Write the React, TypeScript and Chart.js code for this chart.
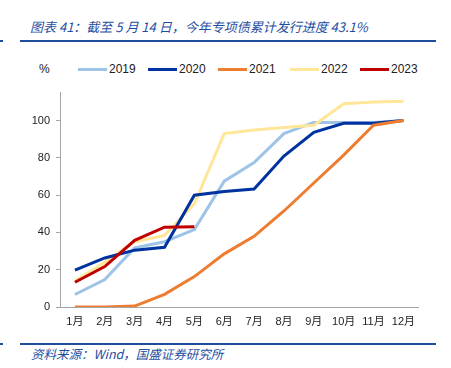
import React, { useEffect, useRef } from "react";
import { Chart, registerables } from "chart.js";

Chart.register(...registerables);

const months = ["1月", "2月", "3月", "4月", "5月", "6月", "7月", "8月", "9月", "10月", "11月", "12月"];
const yTicks = [0, 20, 40, 60, 80, 100];
const s2019 = [6.7, 14.7, 31.7, 35, 41.5, 67.5, 77.5, 93, 99, 99, 99, 100];
const s2020 = [19.8, 26.3, 30.5, 32, 60, 62, 63.3, 81, 93.7, 98.5, 98.5, 100];
const s2021 = [0, 0, 0.5, 6.8, 16.3, 28.5, 37.9, 51.5, 66.5, 81.5, 97.5, 100];
const s2022 = [14, 24, 35, 38.4, 55.4, 93, 95, 96.3, 97.5, 109, 110, 110.4];
const s2023 = [13.3, 21.7, 35.8, 42.8, 43.1];

const seriesNames = ["2019", "2020", "2021", "2022", "2023"];
const seriesColors = ["#9DC3E6", "#0033A0", "#ED7D31", "#FFE699", "#C00000"];
const seriesData = [s2019, s2020, s2021, s2022, s2023];
const seriesOrder = [4, 2, 1, 3, 0];
const legendX = [78, 148, 218, 290, 360];

const FONT = '"Liberation Sans", "Noto Sans CJK SC", sans-serif';

export default function App() {
  const ref = useRef<HTMLCanvasElement | null>(null);

  useEffect(() => {
    document.body.style.margin = "0";
    if (!ref.current) return;
    const chart = new Chart(ref.current, {
      type: "line",
      data: {
        labels: months,
        datasets: seriesNames.map((n, i) => ({
          label: n,
          data: seriesData[i],
          borderColor: seriesColors[i],
          backgroundColor: seriesColors[i],
          borderWidth: 3,
          pointRadius: 0,
          tension: 0,
          fill: false,
          order: seriesOrder[i],
        })),
      },
      options: {
        animation: false,
        responsive: false,
        maintainAspectRatio: false,
        layout: { padding: { top: 8, right: 0, left: 0, bottom: 0 } },
        plugins: { legend: { display: false }, tooltip: { enabled: false } },
        scales: {
          x: {
            offset: true,
            grid: { display: false, drawTicks: false },
            border: { display: true, color: "#A6A6A6", width: 1 },
            ticks: { color: "#222", font: { family: FONT, size: 11 }, padding: 8, maxRotation: 0, autoSkip: false },
            afterFit: (s: any) => { s.height = 28; },
          },
          y: {
            min: 0,
            max: 115,
            grid: { display: true, drawOnChartArea: false, drawTicks: true, tickLength: 4, color: "#A6A6A6" },
            border: { display: true, color: "#A6A6A6", width: 1 },
            ticks: { color: "#222", font: { family: FONT, size: 11 }, padding: 6 },
            afterBuildTicks: (s: any) => { s.ticks = yTicks.map((v) => ({ value: v })); },
            afterFit: (s: any) => { s.width = 60; },
          },
        },
      },
    });
    return () => chart.destroy();
  }, []);

  const blue = "#1F4E9F";
  return (
    <div style={{ position: "relative", width: 451, height: 368, background: "#fff", overflow: "hidden" }}>
      <div style={{ position: "absolute", left: 0, top: 40, width: 3, height: 2, background: blue }} />
      <div style={{ position: "absolute", left: 30, top: 18, fontFamily: '"Noto Sans CJK SC", sans-serif', fontStyle: "italic", fontSize: 13, color: blue, whiteSpace: "pre", lineHeight: "18px" }}>
        图表 41：截至 5 月 14 日，今年专项债累计发行进度 43.1%
      </div>
      <div style={{ position: "absolute", left: 20, top: 40, width: 416, height: 2, background: blue }} />
      <div style={{ position: "absolute", left: 39, top: 61, fontFamily: FONT, fontSize: 12, color: "#222", lineHeight: "16px" }}>%</div>
      {seriesNames.map((n, i) => (
        <div key={n} style={{ position: "absolute", left: legendX[i], top: 61, height: 16, display: "flex", alignItems: "center" }}>
          <div style={{ width: 29, height: 3, background: seriesColors[i] }} />
          <span style={{ fontFamily: FONT, fontSize: 12, color: "#222", marginLeft: 2, lineHeight: "16px" }}>{n}</span>
        </div>
      ))}
      <canvas ref={ref} width={423} height={255} style={{ position: "absolute", left: 0, top: 80, width: 423, height: 255 }} />
      <div style={{ position: "absolute", left: 0, top: 343, width: 3, height: 2, background: blue }} />
      <div style={{ position: "absolute", left: 20, top: 343, width: 416, height: 2, background: blue }} />
      <div style={{ position: "absolute", left: 31, top: 345, fontFamily: '"Noto Sans CJK SC", sans-serif', fontStyle: "italic", fontSize: 12.5, color: blue, whiteSpace: "pre", lineHeight: "17px" }}>
        资料来源：Wind，国盛证券研究所
      </div>
    </div>
  );
}
